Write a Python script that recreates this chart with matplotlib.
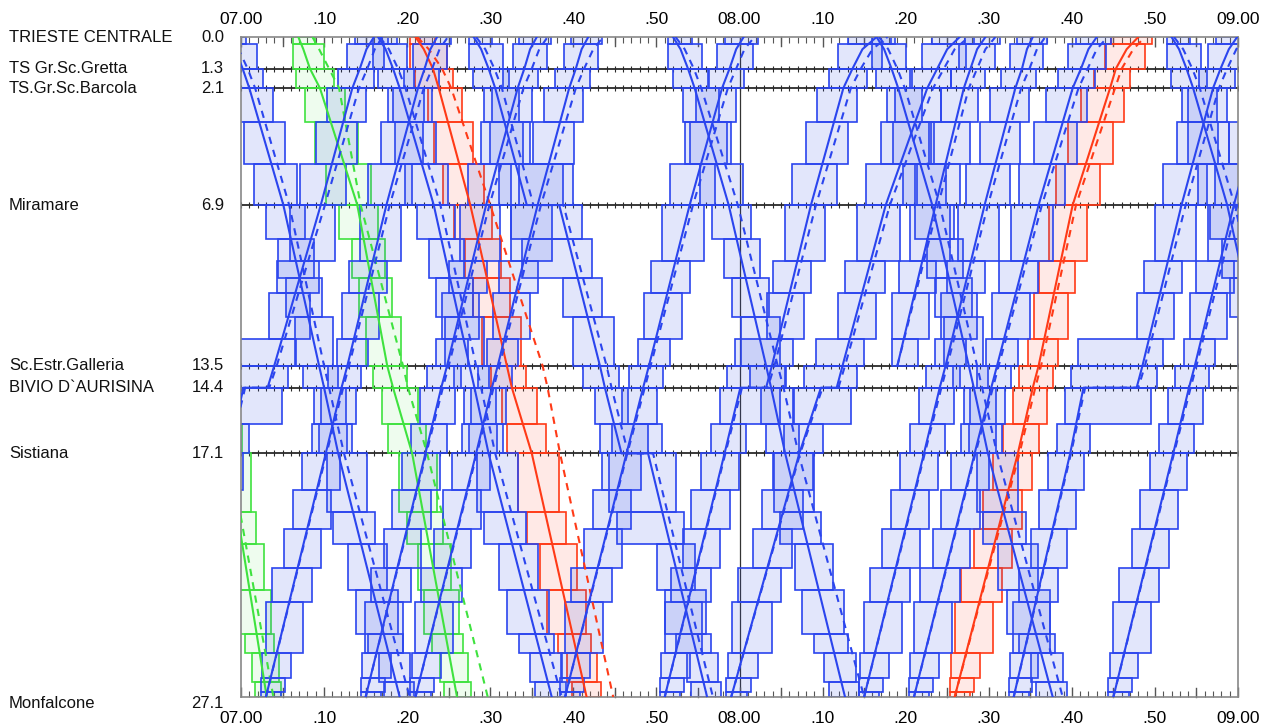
import numpy as np
import matplotlib
matplotlib.use("Agg")
import matplotlib.pyplot as plt
from matplotlib.patches import Rectangle
from matplotlib.transforms import blended_transform_factory

# ---------------- data ----------------
station_names = ["TRIESTE CENTRALE", "TS Gr.Sc.Gretta", "TS.Gr.Sc.Barcola", "Miramare",
                 "Sc.Estr.Galleria", "BIVIO D`AURISINA", "Sistiana", "Monfalcone"]
station_km = [0.0, 1.3, 2.1, 6.9, 13.5, 14.4, 17.1, 27.1]
time_ticks = list(range(0, 121, 10))          # minutes after 07:00
time_labels = ["07.00", ".10", ".20", ".30", ".40", ".50", "08.00",
               ".10", ".20", ".30", ".40", ".50", "09.00"]
# block signals, one set per track direction
down_signals = [0.0, 0.3, 1.3, 2.1, 3.5, 5.2, 6.9, 8.3, 9.9, 11.5, 13.5, 14.4,
                15.9, 17.1, 19.5, 20.8, 22.7, 24.5, 25.3, 26.5, 27.1]
up_signals = [0.0, 0.3, 1.3, 2.1, 3.5, 5.2, 6.9, 9.2, 10.5, 12.4, 13.5, 14.4,
              15.9, 17.1, 18.6, 20.2, 21.8, 23.2, 25.3, 26.3, 26.9, 27.1]

# km sequences of the paths
down_km = [0.0, 0.5, 1.3, 2.1, 6.9, 13.5, 14.4, 17.1, 27.1]
down_km_stops = [0.0, 0.5, 1.3, 2.1, 6.9, 6.9, 13.5, 14.4, 17.1, 17.1, 27.1]
up_km = [27.1, 17.1, 14.4, 13.5, 6.9, 2.1, 1.3, 0.5, 0.0]
up_km_wait_bivio = [27.1, 17.1, 14.4, 14.4, 13.5, 6.9, 2.1, 1.3, 0.5, 0.0]
up_km_from_galleria = [13.5, 6.9, 2.1, 1.3, 0.5, 0.0]

# trains: colour, km sequence, planned (solid) times, actual (dashed) times  [min after 07:00]
train_color = []
train_km = []
train_solid = []
train_dashed = []

# green trains (downward)
train_color += ["green", "green"]
train_km += [down_km, down_km]
train_solid += [[-22.0, -21.4, -20.6, -19.4, -14.9, -9.0, -8.2, -1.6, 3.1],
                [6.9, 7.5, 8.3, 9.5, 14.0, 17.6, 18.3, 20.6, 26.0]]
train_dashed += [[-21.0, -20.2, -19.2, -18.0, -13.5, -8.0, -7.3, -1.4, 3.9],
                 [8.6, 9.4, 10.6, 11.8, 14.4, 19.5, 20.1, 22.4, 29.7]]

# red trains
train_color += ["red", "red"]
train_km += [down_km, up_km]
train_solid += [[21.0, 22.0, 23.1, 23.8, 27.6, 32.0, 32.6, 35.0, 41.6],
                [85.9, 93.5, 95.3, 96.0, 100.1, 104.6, 105.3, 106.6, 108.0]]
train_dashed += [[21.2, 22.6, 24.2, 25.3, 30.0, 36.3, 36.9, 38.4, 44.8],
                 [85.9, 93.7, 95.6, 96.3, 100.5, 105.2, 106.0, 107.4, 108.8]]

# blue downward trains
train_color += ["blue"] * 6
train_km += [down_km, down_km, down_km_stops, down_km, down_km, down_km]
train_solid += [[-1.6, -0.7, 0.2, 1.0, 5.1, 9.4, 10.0, 11.7, 19.1],
                [16.5, 17.4, 18.3, 19.1, 23.2, 27.5, 28.1, 29.8, 37.4],
                [28.0, 28.9, 29.8, 30.6, 34.4, 38.3, 43.2, 43.8, 45.8, 49.0, 56.1],
                [52.0, 52.9, 53.8, 54.6, 58.7, 63.2, 63.8, 65.5, 72.7],
                [76.5, 77.4, 78.3, 79.1, 83.2, 87.6, 88.2, 89.9, 97.7],
                [112.0, 112.9, 113.8, 114.6, 118.7, 123.0, 123.6, 125.3, 132.6]]
train_dashed += [[-1.4, -0.3, 0.8, 1.7, 5.8, 10.0, 10.6, 12.4, 20.3],
                 [16.7, 17.8, 18.9, 19.8, 24.0, 28.3, 28.9, 30.6, 38.6],
                 [28.3, 29.4, 30.5, 31.4, 35.2, 38.8, 44.0, 44.6, 46.6, 49.6, 56.8],
                 [52.3, 53.4, 54.5, 55.4, 59.8, 64.6, 65.3, 67.1, 75.0],
                 [76.8, 77.9, 79.0, 79.9, 84.1, 88.6, 89.2, 91.0, 98.9],
                 [112.3, 113.4, 114.5, 115.4, 119.6, 124.0, 124.6, 126.4, 134.0]]

# blue upward trains
train_color += ["blue"] * 12
train_km += [up_km_wait_bivio, up_km, up_km, up_km, up_km, up_km_wait_bivio,
             up_km_wait_bivio, up_km_from_galleria, up_km, up_km, up_km_wait_bivio, up_km]
train_solid += [[-8.5, -1.5, 0.3, 3.2, 4.0, 9.6, 13.4, 14.3, 15.1, 16.0],
                [3.0, 10.2, 12.1, 12.8, 17.5, 21.3, 22.1, 22.8, 23.6],
                [15.0, 22.2, 24.1, 24.8, 29.5, 33.3, 34.1, 34.8, 35.6],
                [21.0, 28.3, 30.2, 30.9, 35.7, 39.5, 40.3, 41.0, 41.8],
                [39.0, 46.4, 48.4, 49.1, 54.0, 57.9, 58.8, 59.6, 60.5],
                [51.0, 58.2, 60.1, 63.2, 63.9, 68.6, 72.5, 73.6, 74.8, 76.5],
                [59.0, 67.2, 69.8, 71.7, 72.4, 77.6, 82.6, 83.8, 85.0, 86.5],
                [79.0, 83.6, 87.0, 87.8, 88.6, 89.6],
                [75.0, 82.2, 84.1, 84.8, 89.5, 93.2, 94.0, 94.6, 95.3],
                [81.0, 88.3, 90.3, 91.0, 96.0, 100.1, 101.1, 102.0, 103.0],
                [93.0, 99.8, 101.4, 107.8, 108.5, 113.2, 117.0, 117.9, 118.9, 119.9],
                [105.0, 112.2, 114.1, 114.8, 119.5, 123.3, 124.1, 124.8, 125.6]]
train_dashed += [[-8.5, -1.4, 0.5, 3.4, 4.3, 10.1, 14.2, 15.2, 16.1, 17.0],
                 [3.0, 10.3, 12.3, 13.0, 17.9, 22.0, 23.0, 23.9, 24.9],
                 [15.0, 22.3, 24.3, 25.0, 29.9, 34.0, 35.0, 35.9, 36.9],
                 [21.0, 28.4, 30.4, 31.1, 36.1, 40.3, 41.3, 42.4, 43.6],
                 [39.0, 46.5, 48.6, 49.3, 54.4, 58.6, 59.6, 60.6, 61.8],
                 [51.0, 58.3, 60.3, 63.4, 64.2, 69.2, 73.4, 74.6, 76.0, 77.8],
                 [59.0, 67.3, 70.0, 71.9, 72.7, 78.1, 83.3, 84.6, 85.9, 87.6],
                 [79.0, 83.9, 87.6, 88.6, 89.6, 90.8],
                 [75.0, 82.3, 84.3, 85.0, 89.9, 93.9, 94.9, 95.8, 96.8],
                 [81.0, 88.4, 90.5, 91.2, 96.4, 100.8, 101.9, 103.0, 104.3],
                 [93.0, 99.9, 101.6, 108.0, 108.8, 113.7, 117.7, 118.7, 119.8, 120.9],
                 [105.0, 112.3, 114.3, 115.0, 119.9, 124.0, 125.0, 125.9, 126.9]]

# ---------------- styles ----------------
edge_col = {"blue": "#2b45ee", "green": "#3fe23f", "red": "#ff3a17"}
fill_col = {"blue": (0.22, 0.33, 0.90, 0.14), "green": (0.35, 0.90, 0.35, 0.10),
            "red": (1.0, 0.35, 0.25, 0.13)}
SETUP = 0.6
RELEASE = 1.7


def first_time(ts, ks, x):
    for i in range(len(ts) - 1):
        k0, k1 = ks[i], ks[i + 1]
        if (k0 - x) * (k1 - x) <= 0:
            if k1 == k0:
                return ts[i]
            return ts[i] + (x - k0) / (k1 - k0) * (ts[i + 1] - ts[i])
    return None


def last_time(ts, ks, x):
    for i in range(len(ts) - 1, 0, -1):
        k0, k1 = ks[i - 1], ks[i]
        if (k0 - x) * (k1 - x) <= 0:
            if k1 == k0:
                return ts[i]
            return ts[i - 1] + (x - k0) / (k1 - k0) * (ts[i] - ts[i - 1])
    return None


plt.rcParams['font.family'] = ['Liberation Sans', 'DejaVu Sans']
fig = plt.figure(figsize=(12.73, 7.27), dpi=100)
ax = fig.add_axes([241 / 1273, 1 - 697 / 727, 997 / 1273, 660 / 727])
ax.set_xlim(0, 120)
ax.set_ylim(27.1, 0)

# station lines with minute ticks
minutes = np.arange(0, 121, 1)
for km in station_km[1:-1]:
    ax.plot(minutes, [km] * len(minutes), color="#2a2a2a", lw=1.3, marker="|",
            ms=5, mew=0.8, zorder=1)
ax.axvline(60, color="#333333", lw=0.9, zorder=1)

# blocking stairs
for col, ks, ts in zip(train_color, train_km, train_solid):
    kmin, kmax = min(ks), max(ks)
    downward = ks[-1] > ks[0]
    sigset = down_signals if downward else up_signals
    sig = [s for s in sigset if kmin - 1e-9 <= s <= kmax + 1e-9]
    for j in range(len(sig) - 1):
        a, b = sig[j], sig[j + 1]
        if downward:
            appr = sig[j - 1] if j > 0 else a
            left = first_time(ts, ks, appr) - SETUP
            right = last_time(ts, ks, b) + RELEASE
        else:
            appr = sig[j + 2] if j + 2 < len(sig) else b
            left = first_time(ts, ks, appr) - SETUP
            right = last_time(ts, ks, a) + RELEASE
        ax.add_patch(Rectangle((left, a), right - left, b - a, facecolor=fill_col[col],
                               edgecolor=edge_col[col], lw=1.2, zorder=2))

# train paths
for col, ks, ts, td in zip(train_color, train_km, train_solid, train_dashed):
    ax.plot(ts, ks, color=edge_col[col], lw=1.5, zorder=3)
    ax.plot(td, ks, color=edge_col[col], lw=1.5, ls=(0, (3.5, 3)), zorder=3)

# axes cosmetics (bottom)
ax.set_xticks(time_ticks)
ax.set_xticklabels(time_labels)
ax.set_xticks(np.arange(0, 121, 1), minor=True)
ax.set_yticks([])
ax.tick_params(axis="x", which="major", direction="in", length=7, width=1.0,
               top=True, labelsize=12.5, color="#555555", pad=10)
ax.tick_params(axis="x", which="minor", direction="in", length=4, width=0.8,
               top=True, color="#555555")
# top labels
sec = ax.secondary_xaxis("top")
sec.set_xticks(time_ticks)
sec.set_xticklabels(time_labels)
sec.tick_params(axis="x", which="major", direction="in", length=0, labelsize=12.5, pad=7)
sec.spines["top"].set_visible(False)

for x5 in range(5, 120, 10):
    ax.plot([x5, x5], [27.1, 26.75], color="#555555", lw=1.0, zorder=1, clip_on=False)
    ax.plot([x5, x5], [0, 0.35], color="#555555", lw=1.0, zorder=1, clip_on=False)
for sp in ax.spines.values():
    sp.set_color("#888888")
    sp.set_linewidth(1.2)

tr = blended_transform_factory(fig.transFigure, ax.transData)
for name, km in zip(station_names, station_km):
    yy = km + (0.25 if km > 27 else 0.0)
    ax.text(9 / 1273, yy, name, transform=tr, ha="left", va="center", fontsize=12,
            color="#111111")
    ax.text(224 / 1273, yy, f"{km:.1f}", transform=tr, ha="right", va="center",
            fontsize=12, color="#111111")

fig.savefig("out.png", dpi=100)
